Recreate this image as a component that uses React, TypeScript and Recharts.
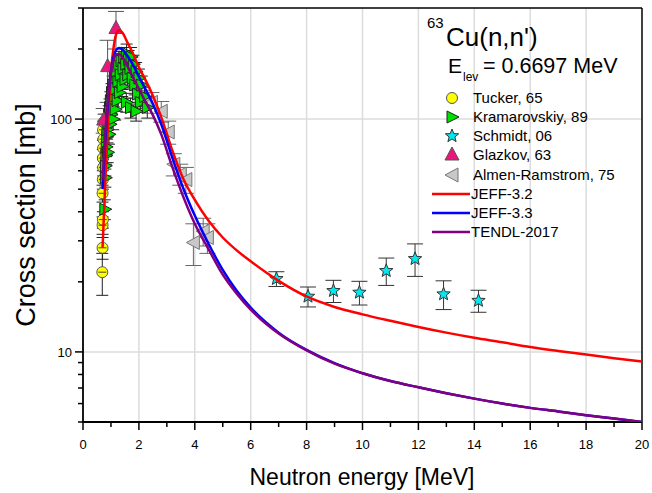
import { ComposedChart, Line, Scatter, XAxis, YAxis, CartesianGrid, ErrorBar, ReferenceLine } from 'recharts';

// evaluated curves: energy grid [MeV] and cross sections [mb]
const energyGrid = [0.7, 0.8, 0.9, 1.0, 1.1, 1.2, 1.3, 1.4, 1.6, 1.8, 2.0, 2.2, 2.5, 2.8, 3.2, 3.6, 4.0, 4.5, 5.0, 5.5, 6.0, 7.0, 8.0, 9.0, 10, 11, 12, 13, 14, 15, 16, 17, 18, 19, 20];
const jeff32 = [28, 55, 98, 160, 205, 234, 241, 236, 212, 190, 167, 150, 126, 102, 73, 55, 45, 36.5, 31, 27.3, 24.5, 20.2, 17.3, 15.6, 14.5, 13.6, 12.8, 12.1, 11.5, 11.0, 10.5, 10.1, 9.75, 9.4, 9.1];
const jeff33 = [50, 82, 120, 160, 186, 199, 202, 199, 186, 170, 152, 137, 116, 95, 68, 50, 38.5, 29, 22.5, 18.3, 15.5, 12.1, 10.2, 8.95, 8.1, 7.5, 7.05, 6.65, 6.3, 6.0, 5.75, 5.55, 5.35, 5.18, 5.0];
const tendl2017 = [55, 88, 125, 158, 180, 190, 190, 185, 168, 150, 135, 121, 104, 86, 62, 46, 35.5, 27.5, 21.5, 17.8, 15.2, 12.0, 10.15, 8.9, 8.1, 7.5, 7.05, 6.65, 6.3, 6.0, 5.75, 5.55, 5.35, 5.18, 5.0];

// experiments: [energy, cross section, error]
const tucker65 = [
  [0.69, 22, 4.5], [0.7, 28, 3], [0.7, 35, 3], [0.71, 37, 3], [0.7, 48, 4], [0.71, 55, 5],
  [0.72, 62, 5], [0.71, 68, 6], [0.72, 75, 6], [0.73, 82, 7], [0.72, 90, 8], [0.74, 97, 8],
];
const kramarovskiy89 = [
  [0.78, 41, 4], [0.8, 56, 5], [0.8, 63, 6], [0.82, 70, 6], [0.83, 76, 7], [0.85, 84, 8], [0.86, 90, 8],
  [0.88, 72, 7], [0.9, 96, 9], [0.92, 104, 10], [0.93, 86, 8], [0.95, 112, 10], [0.97, 95, 9], [0.98, 120, 11],
  [1.0, 105, 10], [1.02, 130, 12], [1.04, 115, 11], [1.06, 140, 13], [1.08, 100, 10], [1.1, 125, 12],
  [1.12, 150, 14], [1.15, 110, 11], [1.17, 135, 13], [1.2, 160, 15], [1.22, 120, 12], [1.25, 145, 14],
  [1.28, 170, 16], [1.3, 130, 12], [1.33, 155, 15], [1.36, 178, 17], [1.4, 138, 13], [1.43, 165, 16],
  [1.46, 185, 18], [1.5, 148, 14], [1.53, 172, 16], [1.56, 192, 18], [1.6, 155, 15], [1.63, 180, 17],
  [1.68, 165, 16], [1.72, 185, 18], [1.76, 150, 14], [1.8, 172, 16], [1.85, 140, 13], [1.9, 160, 15],
  [1.95, 128, 12], [2.0, 150, 14], [2.05, 118, 11], [2.1, 140, 13], [2.2, 125, 12], [2.3, 112, 11],
  [1.55, 118, 11], [1.7, 112, 11], [1.9, 108, 10],
];
const schmidt06 = [
  [6.92, 20.6, 1.5], [8.05, 17.3, 1.7], [8.96, 18.3, 2], [9.89, 18.0, 2.1],
  [10.85, 22.3, 3], [11.88, 25.1, 4], [12.9, 17.7, 2.5], [14.15, 16.6, 1.8],
];
const glazkov63 = [[0.74, 99, 12], [0.88, 168, 50], [1.18, 245, 45]];
const almenRamstrom75 = [
  [1.85, 135, 12], [2.15, 122, 11], [2.45, 118, 12], [2.8, 108, 11], [3.05, 88, 10], [3.25, 64, 7],
  [3.48, 58, 6], [3.68, 55, 7], [3.95, 29.5, 6], [4.3, 33, 4.5], [4.45, 31, 4.5],
];

const xTicks = [0, 1, 2, 3, 4, 5, 6, 7, 8, 9, 10, 11, 12, 13, 14, 15, 16, 17, 18, 19, 20];
const yTicks = [5, 6, 7, 8, 9, 10, 20, 30, 40, 50, 60, 70, 80, 90, 100, 200, 300];

const FONT = '"Liberation Sans", Arial, sans-serif';

const curve = (ys: number[]) => energyGrid.map((e, i) => ({ e, v: ys[i] }));
const points = (rows: number[][]) => rows.map(([e, v, err]) => ({ e, v, err }));

const XTick = ({ x, y, payload }: any) => {
  const major = payload.value % 2 === 0;
  return (
    <g>
      <line x1={x} x2={x} y1={y} y2={y + (major ? 8 : 5)} stroke="#000" strokeWidth={1.5} />
      {major && (
        <text x={x} y={y + 27} textAnchor="middle" fontSize={13} fontFamily={FONT} fill="#000">
          {payload.value}
        </text>
      )}
    </g>
  );
};

const YTick = ({ x, y, payload }: any) => {
  const major = payload.value === 10 || payload.value === 100;
  return (
    <g>
      <line x1={x} x2={x - (major ? 8 : 5)} y1={y} y2={y} stroke="#000" strokeWidth={1.5} />
      {major && (
        <text x={x - 11} y={y + 5} textAnchor="end" fontSize={13} fontFamily={FONT} fill="#000">
          {payload.value}
        </text>
      )}
    </g>
  );
};

const circle = (fill: string) => (p: any) => (
  <g>
    <circle cx={p.cx} cy={p.cy} r={5.5} fill={fill} stroke="#555" strokeWidth={1} />
    <line x1={p.cx - 4} x2={p.cx + 4} y1={p.cy} y2={p.cy} stroke="#444" strokeWidth={1} />
  </g>
);
const triRight = (fill: string, stroke: string) => (p: any) => (
  <path d={`M${p.cx - 5},${p.cy - 6}L${p.cx + 7},${p.cy}L${p.cx - 5},${p.cy + 6}Z`} fill={fill} stroke={stroke} strokeWidth={1} />
);
const triLeft = (fill: string, stroke: string) => (p: any) => (
  <path d={`M${p.cx + 6},${p.cy - 7}L${p.cx - 7},${p.cy}L${p.cx + 6},${p.cy + 7}Z`} fill={fill} stroke={stroke} strokeWidth={1} />
);
const triUp = (fill: string, stroke: string) => (p: any) => (
  <path d={`M${p.cx},${p.cy - 8}L${p.cx + 7},${p.cy + 5}L${p.cx - 7},${p.cy + 5}Z`} fill={fill} stroke={stroke} strokeWidth={1} />
);
const starPath = (cx: number, cy: number, ro: number, ri: number) => {
  let d = '';
  for (let i = 0; i < 10; i++) {
    const r = i % 2 === 0 ? ro : ri;
    const a = -Math.PI / 2 + (i * Math.PI) / 5;
    d += `${i === 0 ? 'M' : 'L'}${cx + r * Math.cos(a)},${cy + r * Math.sin(a)}`;
  }
  return d + 'Z';
};
const star = (fill: string) => (p: any) => (
  <path d={starPath(p.cx, p.cy, 7, 3)} fill={fill} stroke="#333" strokeWidth={1} />
);

const legendRows = [
  { label: 'Tucker, 65', kind: 'circle' },
  { label: 'Kramarovskiy, 89', kind: 'right' },
  { label: 'Schmidt, 06', kind: 'star' },
  { label: 'Glazkov, 63', kind: 'up' },
  { label: 'Almen-Ramstrom, 75', kind: 'left' },
  { label: 'JEFF-3.2', kind: 'line', color: '#ff0000' },
  { label: 'JEFF-3.3', kind: 'line', color: '#0000ff' },
  { label: 'TENDL-2017', kind: 'line', color: '#800080' },
];

const legendMarker = (kind: string, cx: number, cy: number, color?: string) => {
  switch (kind) {
    case 'circle':
      return <circle cx={cx} cy={cy} r={5.5} fill="#ffff00" stroke="#555" strokeWidth={1} />;
    case 'right':
      return triRight('#00e000', '#222')({ cx, cy });
    case 'star':
      return star('#00e8f0')({ cx, cy });
    case 'up':
      return triUp('#e8177c', '#555')({ cx, cy });
    case 'left':
      return triLeft('#c8c8c8', '#777')({ cx, cy });
    default:
      return <line x1={432} x2={470} y1={cy} y2={cy} stroke={color} strokeWidth={2.5} />;
  }
};

export default function App() {
  return (
    <div style={{ position: 'absolute', left: 0, top: 0, width: 652, height: 493, background: '#fff' }}>
      <ComposedChart width={652} height={493} margin={{ top: 8, right: 10, left: 0, bottom: 0 }}>
        <CartesianGrid
          stroke="#dcdcdc"
          strokeWidth={1.5}
          horizontalValues={[10, 100]}
          verticalValues={[2, 4, 6, 8, 10, 12, 14, 16, 18]}
        />
        <XAxis
          type="number"
          dataKey="e"
          domain={[0, 20]}
          ticks={xTicks}
          allowDataOverflow
          height={71}
          tickSize={0}
          tickMargin={0}
          tickLine={false}
          tick={<XTick />}
          axisLine={{ stroke: '#000', strokeWidth: 1.8 }}
          interval={0}
        />
        <YAxis
          type="number"
          dataKey="v"
          scale="log"
          domain={[5, 300]}
          ticks={yTicks}
          allowDataOverflow
          width={83}
          tickSize={0}
          tickMargin={0}
          tickLine={false}
          tick={<YTick />}
          axisLine={{ stroke: '#000', strokeWidth: 1.8 }}
          interval={0}
        />
        <ReferenceLine y={300} stroke="#000" strokeWidth={1.5} />
        <ReferenceLine x={20} stroke="#000" strokeWidth={1.5} />

        <Scatter data={points(tucker65)} shape={circle('#ffff00')} isAnimationActive={false}>
          <ErrorBar dataKey="err" direction="y" width={6} stroke="#222" strokeWidth={1} />
        </Scatter>
        <Scatter data={points(almenRamstrom75)} shape={triLeft('#c8c8c8', '#777')} isAnimationActive={false}>
          <ErrorBar dataKey="err" direction="y" width={8} stroke="#666" strokeWidth={1} />
        </Scatter>
        <Scatter data={points(kramarovskiy89)} shape={triRight('#00e000', '#222')} isAnimationActive={false}>
          <ErrorBar dataKey="err" direction="y" width={6} stroke="#222" strokeWidth={1} />
        </Scatter>
        <Scatter data={points(glazkov63)} shape={triUp('#e8177c', '#555')} isAnimationActive={false}>
          <ErrorBar dataKey="err" direction="y" width={8} stroke="#555" strokeWidth={1} />
        </Scatter>
        <Scatter data={points(schmidt06)} shape={star('#00e8f0')} isAnimationActive={false}>
          <ErrorBar dataKey="err" direction="y" width={8} stroke="#333" strokeWidth={1} />
        </Scatter>

        <Line data={curve(jeff32)} dataKey="v" type="monotone" stroke="#ff0000" strokeWidth={2.5} dot={false} isAnimationActive={false} zIndex={700} />
        <Line data={curve(jeff33)} dataKey="v" type="monotone" stroke="#0000ff" strokeWidth={2.5} dot={false} isAnimationActive={false} zIndex={701} />
        <Line data={curve(tendl2017)} dataKey="v" type="monotone" stroke="#800080" strokeWidth={2.5} dot={false} isAnimationActive={false} zIndex={702} />
      </ComposedChart>

      <svg width={652} height={493} style={{ position: 'absolute', left: 0, top: 0, pointerEvents: 'none' }} fontFamily={FONT}>
        <text x={35} y={215} transform="rotate(-90 35 215)" textAnchor="middle" fontSize={27} fill="#000">
          Cross section [mb]
        </text>
        <text x={362} y={485} textAnchor="middle" fontSize={23} fill="#000">
          Neutron energy [MeV]
        </text>

        <text x={427} y={28} fontSize={15} fill="#000">63</text>
        <text x={446} y={46} fontSize={26} fill="#000">Cu(n,n')</text>
        <text x={448} y={73} fontSize={21} fill="#000">E</text>
        <text x={463} y={81} fontSize={12} fill="#000">lev</text>
        <text x={483} y={73} fontSize={21.5} fill="#000">= 0.6697 MeV</text>

        {legendRows.map((r, i) => {
          const cy = [98, 117, 136, 155, 175, 194, 213, 232][i];
          return (
            <g key={r.label}>
              {legendMarker(r.kind, 452, cy, r.color)}
              <text x={r.kind === 'line' ? 471 : 473} y={cy + 5} fontSize={15} fill="#000">
                {r.label}
              </text>
            </g>
          );
        })}
      </svg>
    </div>
  );
}
